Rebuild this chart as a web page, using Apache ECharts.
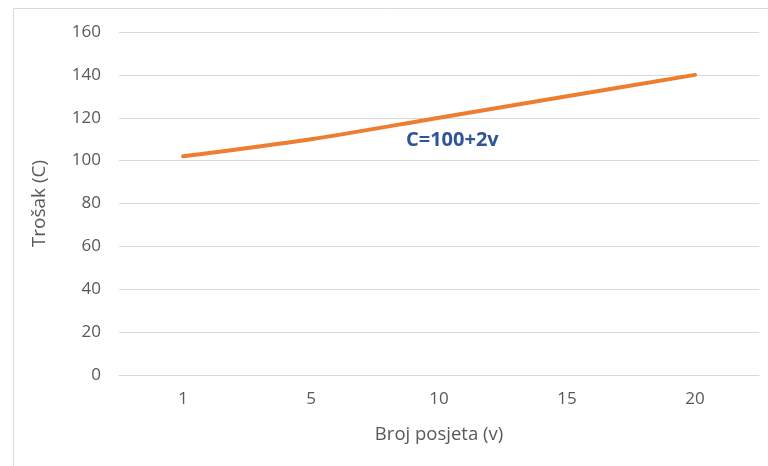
<!DOCTYPE html>
<html><head><meta charset="utf-8">
<script src="https://cdn.jsdelivr.net/npm/echarts@6/dist/echarts.min.js"></script>
<style>html,body{margin:0;padding:0;background:#fff}#c{width:768px;height:466px}</style>
</head><body><div id="c"></div>
<script>
const categories = ['1', '5', '10', '15', '20'];
const costValues = [102, 110, 120, 130, 140];
const yTicks = { min: 0, max: 160, interval: 20 };
const chart = echarts.init(document.getElementById('c'));
const font = '"Open Sans", sans-serif';
chart.setOption({
  animation: false,
  backgroundColor: '#fff',
  grid: { left: 119, right: 9, top: 32, bottom: 91 },
  graphic: [
    { type: 'rect', shape: { x: 13.5, y: 8.5, width: 800, height: 500 }, style: { fill: 'none', stroke: '#D9D9D9', lineWidth: 1 }, silent: true },
    { type: 'text', left: 406, top: 130, style: { text: 'C=100+2v', fill: '#2F5597', font: 'bold 20px ' + font } }
  ],
  xAxis: {
    type: 'category', data: categories, boundaryGap: true,
    name: 'Broj posjeta (v)', nameLocation: 'middle', nameGap: 50,
    nameTextStyle: { color: '#595959', fontSize: 18.5, fontFamily: font },
    axisLine: { lineStyle: { color: '#D9D9D9' } },
    axisTick: { show: false },
    axisLabel: { color: '#595959', fontSize: 17, fontFamily: font, margin: 16 }
  },
  yAxis: {
    type: 'value', min: yTicks.min, max: yTicks.max, interval: yTicks.interval,
    name: 'Trošak (C)', nameLocation: 'middle', nameGap: 70,
    nameTextStyle: { color: '#595959', fontSize: 19, fontFamily: font },
    axisLine: { show: false }, axisTick: { show: false },
    axisLabel: { color: '#595959', fontSize: 17, fontFamily: font, margin: 18 },
    splitLine: { lineStyle: { color: '#D9D9D9' } }
  },
  series: [{
    type: 'line', data: costValues, smooth: 0.3, symbol: 'none',
    lineStyle: { color: '#ED7D31', width: 4, cap: 'round' }
  }]
});
</script></body></html>
